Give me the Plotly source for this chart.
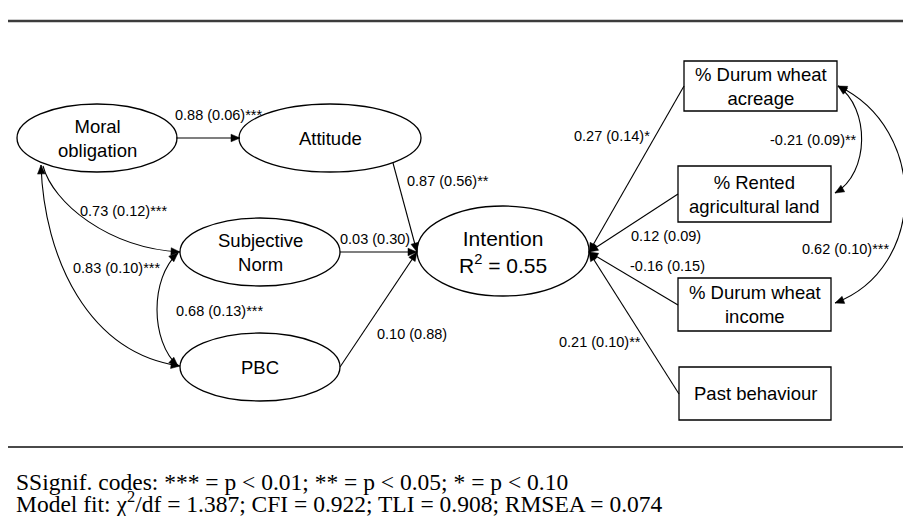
import plotly.graph_objects as go

# ---------------- data ----------------
latent_nodes = ["Moral<br>obligation", "Attitude", "Subjective<br>Norm", "PBC"]
observed_nodes = ["% Durum wheat<br>acreage", "% Rented<br>agricultural land",
                  "% Durum wheat<br>income", "Past behaviour"]
outcome_label = "Intention<br>R<sup>2</sup> = 0.55"

path_names = ["MO->ATT", "ATT->INT", "SN->INT", "PBC->INT", "MO->SN", "MO<->PBC",
              "SN<->PBC", "ACR->INT", "RENT->INT", "INC->INT", "PAST->INT",
              "ACR<->RENT", "ACR<->INC"]
coefs = [0.88, 0.87, 0.03, 0.10, 0.73, 0.83, 0.68, 0.27, 0.12, -0.16, 0.21, -0.21, 0.62]
ses = [0.06, 0.56, 0.30, 0.88, 0.12, 0.10, 0.13, 0.14, 0.09, 0.15, 0.10, 0.09, 0.10]
stars = ["***", "**", "", "", "***", "***", "***", "*", "", "", "**", "**", "***"]

footer_lines = [
    "SSignif. codes: *** = p &lt; 0.01; ** = p &lt; 0.05; * = p &lt; 0.10",
    "Model fit: χ<sup>2</sup>/df = 1.387; CFI = 0.922; TLI = 0.908; RMSEA = 0.074",
]

# ---------------- layout geometry (pixels) ----------------
W, H = 911, 516
ell = {  # center x, center y, rx, ry
    "Moral<br>obligation": (89, 130, 80, 34),
    "Attitude": (322, 130, 91, 34),
    "Subjective<br>Norm": (252, 244, 80, 34),
    "PBC": (252, 359, 80, 34),
}
intent = (495, 243, 86, 45)
boxes = {
    "% Durum wheat<br>acreage": (676, 53, 829, 103),
    "% Rented<br>agricultural land": (670, 158, 823, 214),
    "% Durum wheat<br>income": (670, 270, 823, 323),
    "Past behaviour": (671, 359, 823, 412),
}

FONT = "Liberation Sans, Arial, sans-serif"
shapes, annos = [], []
LC = "black"


def arrowhead(tip, frm, L=9, Wd=3.8):
    tx, ty = tip
    dx, dy = tx - frm[0], ty - frm[1]
    n = (dx * dx + dy * dy) ** 0.5
    ux, uy = dx / n, dy / n
    bx, by = tx - L * ux, ty - L * uy
    px, py = -uy, ux
    p1 = (bx + Wd * px, by + Wd * py)
    p2 = (bx - Wd * px, by - Wd * py)
    shapes.append(dict(type="path", xref="x", yref="y",
                       path=f"M {tx},{ty} L {p1[0]:.2f},{p1[1]:.2f} L {p2[0]:.2f},{p2[1]:.2f} Z",
                       fillcolor=LC, line=dict(color=LC, width=0.5)))


def straight(a, b, head=True):
    shapes.append(dict(type="line", xref="x", yref="y", x0=a[0], y0=a[1], x1=b[0], y1=b[1],
                       line=dict(color=LC, width=1.1)))
    if head:
        arrowhead(b, a)


def curve(p0, p1, p2, p3, head_start=False, head_end=True):
    shapes.append(dict(type="path", xref="x", yref="y",
                       path=f"M {p0[0]},{p0[1]} C {p1[0]},{p1[1]} {p2[0]},{p2[1]} {p3[0]},{p3[1]}",
                       line=dict(color=LC, width=1.1)))
    if head_end:
        arrowhead(p3, p2)
    if head_start:
        arrowhead(p0, p1)


# horizontal rules
shapes.append(dict(type="line", xref="x", yref="y", x0=0, x1=W, y0=13, y1=13,
                   line=dict(color="#3c3c3c", width=2.6)))
shapes.append(dict(type="line", xref="x", yref="y", x0=0, x1=W, y0=439, y1=439,
                   line=dict(color="#4a4a4a", width=1.8)))

# ellipses
for name, (cx, cy, rx, ry) in ell.items():
    shapes.append(dict(type="circle", xref="x", yref="y", x0=cx - rx, x1=cx + rx,
                       y0=cy - ry, y1=cy + ry, line=dict(color=LC, width=1.3)))
    annos.append(dict(x=cx, y=cy, text=name, showarrow=False, xref="x", yref="y",
                      font=dict(family=FONT, size=18.5, color="black")))
cx, cy, rx, ry = intent
shapes.append(dict(type="circle", xref="x", yref="y", x0=cx - rx, x1=cx + rx,
                   y0=cy - ry, y1=cy + ry, line=dict(color=LC, width=1.3)))
annos.append(dict(x=cx, y=cy + 1, text=outcome_label, showarrow=False, xref="x", yref="y",
                  font=dict(family=FONT, size=21, color="black")))

# boxes
for name, (x0, y0, x1, y1) in boxes.items():
    shapes.append(dict(type="rect", xref="x", yref="y", x0=x0, x1=x1, y0=y0, y1=y1,
                       line=dict(color=LC, width=1.3)))
    annos.append(dict(x=(x0 + x1) / 2, y=(y0 + y1) / 2, text=name, showarrow=False,
                      xref="x", yref="y", font=dict(family=FONT, size=18.5, color="black")))

# paths
L_tip = (409, 244)
R_tip = (581, 244)
straight((168, 130), (232, 130))
straight((385, 155), L_tip)
straight((332, 244), L_tip)
straight((332, 359), L_tip)
straight((676, 78), R_tip)
straight((670, 186), R_tip)
straight((670, 297), R_tip)
straight((671, 386), R_tip)

curve((35, 158), (45, 195), (100, 240), (172, 244))
curve((33, 157), (36, 250), (80, 345), (172, 358), head_start=True)
curve((170, 245), (142, 270), (142, 333), (170, 358), head_start=True)
curve((830, 78), (862, 100), (862, 165), (827, 185), head_start=True)
curve((830, 78), (920, 120), (920, 260), (827, 295), head_start=True)

# path labels (left x, center y)
label_pos = [(165, 107), (397, 173), (330, 231), (367, 326), (70, 203), (63, 260),
             (166, 303), (564, 128), (621, 228), (620, 258), (549, 334), (760, 132),
             (792, 241)]
for c, s, st, (lx, ly) in zip(coefs, ses, stars, label_pos):
    annos.append(dict(x=lx, y=ly, text=f"{c:.2f} ({s:.2f}){st}", showarrow=False,
                      xref="x", yref="y", xanchor="left", yanchor="middle",
                      font=dict(family=FONT, size=14.5, color="black")))

# footer
for txt, fy in zip(footer_lines, [474, 494]):
    annos.append(dict(x=6, y=fy, text=txt, showarrow=False, xref="x", yref="y",
                      xanchor="left", yanchor="middle",
                      font=dict(family="Liberation Serif, Times New Roman, serif",
                                size=23.5, color="black")))

fig = go.Figure()
fig.update_layout(
    width=W, height=H, autosize=False,
    margin=dict(l=0, r=0, t=0, b=0),
    paper_bgcolor="white", plot_bgcolor="white",
    xaxis=dict(range=[0, W], visible=False, fixedrange=True),
    yaxis=dict(range=[H, 0], visible=False, fixedrange=True),
    shapes=shapes, annotations=annos, showlegend=False,
)
fig.write_html("out.html")
